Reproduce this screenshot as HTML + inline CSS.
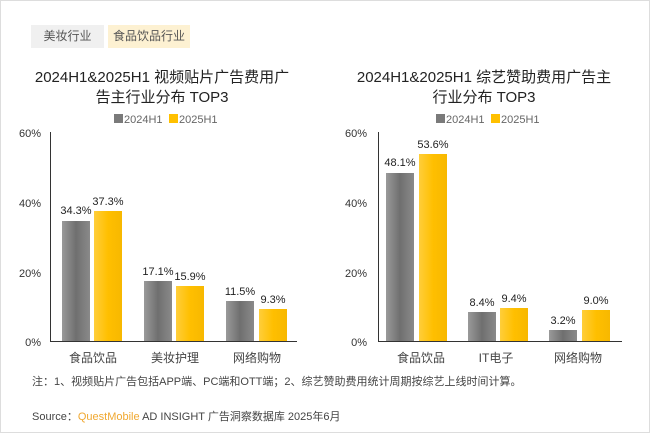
<!DOCTYPE html>
<html><head><meta charset="utf-8"><style>
body{margin:0;background:#fff;}
.wrap{position:relative;width:648px;height:431px;border:1px solid #ddd;overflow:hidden;font-family:"Liberation Sans","Noto Sans CJK SC",sans-serif;}
.t{position:absolute;white-space:nowrap;}
</style></head><body><div class="wrap">
<div class="t" style="left:30px;top:24px;width:73px;height:23px;background:#f0f0f0;color:#555;font-size:12px;line-height:23px;text-align:center">美妆行业</div>
<div class="t" style="left:107px;top:24px;width:82px;height:23px;background:#fdf1d2;color:#555;font-size:12px;line-height:23px;text-align:center">食品饮品行业</div>
<svg width="650" height="433" style="position:absolute;left:-1px;top:-1px" font-family="Liberation Sans, Noto Sans CJK SC, sans-serif">
<defs>
<linearGradient id="g" x1="0" x2="1"><stop offset="0" stop-color="#9a9a9a"/><stop offset="0.5" stop-color="#6f6f6f"/><stop offset="1" stop-color="#8a8a8a"/></linearGradient>
<linearGradient id="y" x1="0" x2="1"><stop offset="0" stop-color="#ffce3a"/><stop offset="0.5" stop-color="#ffbf00"/><stop offset="1" stop-color="#f7b800"/></linearGradient>
</defs>
<g fill="#222" font-size="15" text-anchor="middle">
<text x="162" y="82">2024H1&amp;2025H1 视频贴片广告费用广</text>
<text x="162" y="102">告主行业分布 TOP3</text>
<text x="484" y="82">2024H1&amp;2025H1 综艺赞助费用广告主</text>
<text x="484" y="102">行业分布 TOP3</text>
</g>
<g font-size="11" fill="#666">
<rect x="114" y="114" width="9" height="9" fill="#7a7a7a"/><text x="124" y="123">2024H1</text>
<rect x="169" y="114" width="9" height="9" fill="#ffc000"/><text x="179" y="123">2025H1</text>
<rect x="436" y="114" width="9" height="9" fill="#7a7a7a"/><text x="446" y="123">2024H1</text>
<rect x="491" y="114" width="9" height="9" fill="#ffc000"/><text x="501" y="123">2025H1</text>
</g>
<g font-size="11" fill="#333" text-anchor="end">
<text x="41" y="137">60%</text><text x="41" y="207">40%</text><text x="41" y="277">20%</text><text x="41" y="346">0%</text>
<text x="367" y="137">60%</text><text x="367" y="207">40%</text><text x="367" y="277">20%</text><text x="367" y="346">0%</text>
</g>
<g stroke="#333" stroke-width="1">
<line x1="50.5" y1="132" x2="50.5" y2="341"/><line x1="50" y1="341.5" x2="297" y2="341.5"/>
<line x1="378.5" y1="132" x2="378.5" y2="341"/><line x1="378" y1="341.5" x2="622" y2="341.5"/>
</g>
<g>
<rect x="62" y="221" width="28" height="120" fill="url(#g)"/><rect x="94" y="211" width="28" height="130" fill="url(#y)"/>
<rect x="144" y="281" width="28" height="60" fill="url(#g)"/><rect x="176" y="286" width="28" height="55" fill="url(#y)"/>
<rect x="226" y="301" width="28" height="40" fill="url(#g)"/><rect x="259" y="309" width="28" height="32" fill="url(#y)"/>
<rect x="386" y="173" width="28" height="168" fill="url(#g)"/><rect x="419" y="154" width="28" height="187" fill="url(#y)"/>
<rect x="468" y="312" width="28" height="29" fill="url(#g)"/><rect x="500" y="308" width="28" height="33" fill="url(#y)"/>
<rect x="549" y="330" width="28" height="11" fill="url(#g)"/><rect x="582" y="310" width="28" height="31" fill="url(#y)"/>
</g>
<g font-size="11" fill="#222" text-anchor="middle">
<text x="76" y="214">34.3%</text><text x="108" y="205">37.3%</text>
<text x="158" y="275">17.1%</text><text x="190" y="280">15.9%</text>
<text x="240" y="295">11.5%</text><text x="273" y="303">9.3%</text>
<text x="400" y="166">48.1%</text><text x="433" y="148">53.6%</text>
<text x="482" y="306">8.4%</text><text x="514" y="302">9.4%</text>
<text x="563" y="324">3.2%</text><text x="596" y="304">9.0%</text>
</g>
<g font-size="12" fill="#444" text-anchor="middle">
<text x="93" y="362">食品饮品</text><text x="175" y="362">美妆护理</text><text x="257" y="362">网络购物</text>
<text x="421" y="362">食品饮品</text><text x="496" y="362">IT电子</text><text x="578" y="362">网络购物</text>
</g>
<text x="32" y="385" font-size="11" fill="#444">注：1、视频贴片广告包括APP端、PC端和OTT端；2、综艺赞助费用统计周期按综艺上线时间计算。</text>
<text x="32" y="420" font-size="11" fill="#444">Source：<tspan fill="#f0a830">QuestMobile</tspan> AD INSIGHT 广告洞察数据库 2025年6月</text>
</svg>
</div></body></html>
